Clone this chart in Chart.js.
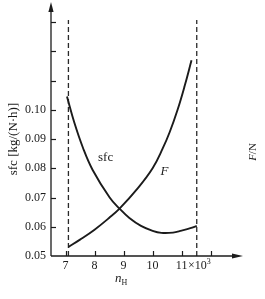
<!DOCTYPE html>
<html>
<head>
<meta charset="utf-8">
<script src="https://cdn.jsdelivr.net/npm/chart.js@4.4.0/dist/chart.umd.min.js"></script>
<style>
html, body { margin: 0; padding: 0; background: #fff; }
</style>
</head>
<body>
<canvas id="chart" width="265" height="299"></canvas>
<script>
// rotor speed n_H (x10^3) and the two curves
const sfcSpeed = [7.05, 7.3, 7.6, 7.93, 8.52, 8.86, 9.2, 9.6, 10.0, 10.3, 10.7, 11.0, 11.3, 11.52];
const sfcValues = [0.1045, 0.0957, 0.0870, 0.0795, 0.0700, 0.0662, 0.0630, 0.0603, 0.0586, 0.0579, 0.0580, 0.0587, 0.0595, 0.0603];
const thrustSpeed = [7.1, 7.5, 8.0, 8.5, 8.86, 9.5, 10.0, 10.34, 10.59, 10.86, 11.1, 11.34];
const thrustValues = [0.0531, 0.0556, 0.0590, 0.0630, 0.0662, 0.0733, 0.0800, 0.0866, 0.0924, 0.1000, 0.1080, 0.1169];
// operating limits (dashed lines)
const limitSpeeds = [7.1, 11.52];
const limitTop = 0.1307;
// axis ranges / ticks
const xRange = [6.5, 12.7];
const yRange = [0.05, 0.13];
const yLabelMax = 0.10;
const xLabelMax = 11;

const ink = "#1b1b1b";
const serif = "'Liberation Serif', 'DejaVu Serif', serif";

function toPoints(xs, ys) {
  return xs.map((x, i) => ({ x: x, y: ys[i] }));
}

const limitSets = limitSpeeds.map((s) => ({
  label: "limit",
  data: [{ x: s, y: yRange[0] }, { x: s, y: limitTop }],
  borderColor: "#2a2a2a",
  borderWidth: 1.3,
  borderDash: [5, 3],
  pointRadius: 0,
  tension: 0,
  clip: false,
}));

// axes with arrows, inward ticks and the loose labels
const axisPlugin = {
  id: "axisArrows",
  afterDraw(chart) {
    const { ctx, chartArea: a, scales } = chart;
    const x = scales.x, y = scales.y;
    ctx.save();
    ctx.strokeStyle = ink;
    ctx.fillStyle = ink;
    ctx.lineWidth = 1.3;
    // y axis
    ctx.beginPath();
    ctx.moveTo(a.left, a.bottom);
    ctx.lineTo(a.left, 9);
    ctx.stroke();
    ctx.beginPath();
    ctx.moveTo(a.left, 2);
    ctx.lineTo(a.left - 2.6, 12);
    ctx.lineTo(a.left + 2.6, 12);
    ctx.closePath();
    ctx.fill();
    // x axis
    ctx.beginPath();
    ctx.moveTo(a.left, a.bottom);
    ctx.lineTo(a.right + 3, a.bottom);
    ctx.stroke();
    ctx.beginPath();
    ctx.moveTo(a.right + 12, a.bottom);
    ctx.lineTo(a.right + 1, a.bottom - 2.6);
    ctx.lineTo(a.right + 1, a.bottom + 2.6);
    ctx.closePath();
    ctx.fill();
    // inward ticks
    ctx.lineWidth = 1.2;
    y.ticks.forEach((t) => {
      if (t.value <= yRange[0] + 1e-6) return;
      const py = Math.round(y.getPixelForValue(t.value)) + 0.5;
      ctx.beginPath();
      ctx.moveTo(a.left, py);
      ctx.lineTo(a.left + 5, py);
      ctx.stroke();
    });
    x.ticks.forEach((t) => {
      const px = Math.round(x.getPixelForValue(t.value)) + 0.5;
      ctx.beginPath();
      ctx.moveTo(px, a.bottom);
      ctx.lineTo(px, a.bottom - 5);
      ctx.stroke();
    });
    // x10^3 after the 11 label
    ctx.font = "12px " + serif;
    ctx.textBaseline = "middle";
    ctx.textAlign = "left";
    const lblY = a.bottom + 3 + 7.2;
    let tx = x.getPixelForValue(xLabelMax) + ctx.measureText("11").width / 2 + 0.5;
    ctx.fillText("\u00d710", tx, lblY);
    tx += ctx.measureText("\u00d710").width;
    ctx.font = "8px " + serif;
    ctx.fillText("3", tx, lblY - 4);
    // curve labels
    ctx.font = "13px " + serif;
    ctx.textAlign = "center";
    ctx.fillText("sfc", x.getPixelForValue(8.38), y.getPixelForValue(0.0835));
    ctx.font = "italic 13px " + serif;
    ctx.fillText("F", x.getPixelForValue(10.41), y.getPixelForValue(0.0787));
    // x title n_H
    const nx = x.getPixelForValue(8.93);
    ctx.font = "italic 13px " + serif;
    ctx.textAlign = "right";
    ctx.fillText("n", nx, 279);
    ctx.font = "8px " + serif;
    ctx.textAlign = "left";
    ctx.fillText("H", nx, 283);
    // right title F/N
    ctx.translate(253, 152);
    ctx.rotate(-Math.PI / 2);
    ctx.font = "italic 11px " + serif;
    const wF = ctx.measureText("F").width;
    ctx.font = "11px " + serif;
    const wN = ctx.measureText("/N").width;
    const start = -(wF + wN) / 2;
    ctx.font = "italic 11px " + serif;
    ctx.fillText("F", start, 0);
    ctx.font = "11px " + serif;
    ctx.fillText("/N", start + wF, 0);
    ctx.restore();
  },
};

const ctx = document.getElementById("chart").getContext("2d");
const chart = new Chart(ctx, {
  type: "line",
  data: {
    datasets: [
      {
        label: "sfc",
        data: toPoints(sfcSpeed, sfcValues),
        borderColor: ink,
        borderWidth: 1.9,
        pointRadius: 0,
        tension: 0.4,
        yAxisID: "y",
      },
      {
        label: "F",
        data: toPoints(thrustSpeed, thrustValues),
        borderColor: ink,
        borderWidth: 1.9,
        pointRadius: 0,
        tension: 0.4,
        yAxisID: "yF",
      },
      ...limitSets,
    ],
  },
  plugins: [axisPlugin],
  options: {
    responsive: false,
    animation: false,
    layout: { padding: { top: 22, right: 34, left: 0, bottom: 0 } },
    plugins: {
      legend: { display: false },
      tooltip: { enabled: false },
    },
    scales: {
      x: {
        type: "linear",
        min: xRange[0],
        max: xRange[1],
        afterFit: (s) => { s.height = 43; },
        grid: { display: false, drawTicks: false },
        border: { display: false },
        ticks: {
          stepSize: 1,
          includeBounds: false,
          padding: 3,
          color: ink,
          font: { family: serif, size: 12 },
          callback: (v) => (v <= xLabelMax ? String(v) : ""),
        },
      },
      y: {
        min: yRange[0],
        max: yRange[1],
        afterFit: (s) => { s.width = 51; },
        grid: { display: false, drawTicks: false },
        border: { display: false },
        ticks: {
          stepSize: 0.01,
          padding: 5,
          color: ink,
          font: { family: serif, size: 12 },
          callback: (v) => (v <= yLabelMax + 1e-6 ? v.toFixed(2) : ""),
        },
        title: {
          display: true,
          text: "sfc [kg/(N\u00b7h)]",
          color: ink,
          font: { family: serif, size: 13 },
          padding: { top: 6, bottom: 0 },
        },
      },
      yF: {
        display: false,
        position: "right",
        min: yRange[0],
        max: yRange[1],
      },
    },
  },
});
</script>
</body>
</html>
